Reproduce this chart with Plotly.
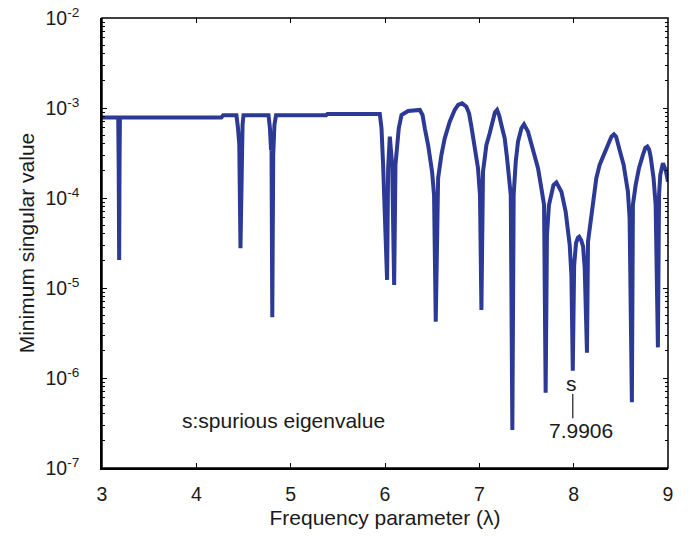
import plotly.graph_objects as go

# Frequency parameter (lambda)
lam = [3.000, 3.172, 3.177, 3.182, 3.186, 3.190, 4.265, 4.285, 4.425, 4.440,
       4.455, 4.468, 4.478, 4.490, 4.500, 4.765, 4.780, 4.792, 4.797, 4.805,
       4.815, 4.828, 4.845, 5.375, 5.390, 5.945, 5.963, 5.980, 6.022, 6.033,
       6.051, 6.076, 6.097, 6.111, 6.132, 6.146, 6.175, 6.245, 6.369, 6.398,
       6.422, 6.457, 6.499, 6.520, 6.538, 6.556, 6.563, 6.598, 6.633, 6.686,
       6.739, 6.775, 6.817, 6.863, 6.891, 6.916, 6.951, 6.986, 7.007, 7.022,
       7.039, 7.075, 7.110, 7.145, 7.165, 7.188, 7.210, 7.234, 7.269, 7.294,
       7.315, 7.333, 7.350, 7.364, 7.386, 7.410, 7.446, 7.474, 7.516, 7.569,
       7.622, 7.658, 7.686, 7.703, 7.717, 7.738, 7.763, 7.786, 7.817, 7.870,
       7.915, 7.940, 7.958, 7.976, 7.9906, 8.005, 8.025, 8.045, 8.058, 8.080,
       8.100, 8.117, 8.141, 8.152, 8.187, 8.212, 8.240, 8.275, 8.328, 8.374,
       8.400, 8.427, 8.450, 8.487, 8.530, 8.575, 8.593, 8.617, 8.628, 8.657,
       8.692, 8.734, 8.760, 8.781, 8.800, 8.816, 8.847, 8.869, 8.893, 8.905,
       8.918, 8.946, 8.975, 9.000]

# Minimum singular value
sv = [7.83e-4, 7.83e-4, 2.2e-4, 2.05e-5, 2.4e-4, 7.83e-4, 7.83e-4, 8.30e-4, 8.30e-4, 6.2e-4,
      4.0e-4, 2.76e-5, 3.5e-4, 6.5e-4, 8.30e-4, 8.30e-4, 6.0e-4, 3.4e-4, 3.6e-4, 4.72e-6,
      3.0e-4, 6.5e-4, 8.30e-4, 8.30e-4, 8.57e-4, 8.57e-4, 5.94e-4, 2.33e-4, 1.23e-5, 2.14e-4,
      4.80e-4, 2.33e-4, 1.08e-5, 2.33e-4, 3.88e-4, 5.94e-4, 8.36e-4, 9.27e-4, 9.51e-4, 8.36e-4,
      5.94e-4, 3.88e-4, 1.96e-4, 1.08e-4, 4.23e-6, 9.10e-5, 1.66e-4, 3.01e-4, 4.60e-4, 7.05e-4,
      9.51e-4, 1.08e-3, 1.127e-3, 1.035e-3, 8.73e-4, 6.21e-4, 3.88e-4, 2.14e-4, 1.08e-4, 5.70e-6,
      1.96e-4, 3.88e-4, 5.25e-4, 7.67e-4, 8.9e-4, 9.51e-4, 8.3e-4, 6.47e-4, 4.60e-4, 2.76e-4,
      1.52e-4, 1.08e-4, 2.64e-7, 1.08e-4, 2.54e-4, 4.23e-4, 5.94e-4, 6.59e-4, 5.46e-4, 3.56e-4,
      2.14e-4, 1.28e-4, 8.36e-5, 6.87e-7, 3.88e-5, 8.36e-5, 1.175e-4, 1.39e-4, 1.49e-4, 1.175e-4,
      7.05e-5, 4.60e-5, 3.01e-5, 1.39e-5, 1.205e-6, 1.78e-5, 3.16e-5, 3.63e-5, 3.72e-5, 3.39e-5,
      2.88e-5, 1.66e-5, 1.91e-6, 3.27e-5, 6.47e-5, 1.08e-4, 1.66e-4, 2.33e-4, 3.13e-4, 4.05e-4,
      4.8e-4, 5.09e-4, 4.8e-4, 3.41e-4, 2.33e-4, 1.175e-4, 5.94e-5, 5.37e-7, 8.36e-5, 1.39e-4,
      2.14e-4, 3.01e-4, 3.6e-4, 3.72e-4, 3.45e-4, 2.88e-4, 1.66e-4, 8.36e-5, 2.19e-6, 1.08e-4,
      1.80e-4, 2.43e-4, 2.05e-4, 1.52e-4]

x_ticks = [3, 4, 5, 6, 7, 8, 9]
y_ticks = [1e-7, 1e-6, 1e-5, 1e-4, 1e-3, 1e-2]
y_ticktext = ["10<sup>-7</sup>", "10<sup>-6</sup>", "10<sup>-5</sup>",
              "10<sup>-4</sup>", "10<sup>-3</sup>", "10<sup>-2</sup>"]

spurious_lambda = 7.9906

FONT = "Liberation Sans, Arial, sans-serif"
TXT = "#1a1a1a"
LINE = "#2C3A95"

fig = go.Figure()
fig.add_trace(go.Scatter(x=lam, y=sv, mode="lines",
                         line=dict(color=LINE, width=4),
                         showlegend=False, hoverinfo="skip"))
# empty trace that only carries the mirrored (top / right) tick axes
fig.add_trace(go.Scatter(x=[], y=[], xaxis="x2", yaxis="y2", mode="lines",
                         showlegend=False, hoverinfo="skip"))

tick_style = dict(ticks="inside", ticklen=5, tickwidth=1, tickcolor="black",
                  showgrid=False, zeroline=False, automargin=False)
y_minor = dict(ticks="inside", ticklen=3, tickcolor="black", dtick="D1", showgrid=False)

fig.update_layout(
    xaxis=dict(range=[3, 9], tickmode="array", tickvals=x_ticks, ticklabelstandoff=8,
               showline=True, linecolor="black", linewidth=1.5,
               ticklabeloverflow="allow",
               tickfont=dict(family=FONT, size=19.5, color=TXT),
               title=dict(text="Frequency parameter (λ)",
                          font=dict(family=FONT, size=21, color=TXT), standoff=6),
               **tick_style),
    yaxis=dict(type="log", range=[-7, -2], tickmode="array", tickvals=y_ticks,
               ticktext=y_ticktext, ticklabelstandoff=17,
               showline=True, linecolor="black", linewidth=1.5,
               ticklabeloverflow="allow", minor=y_minor,
               tickfont=dict(family=FONT, size=19.5, color=TXT),
               title=dict(text="Minimum singular value",
                          font=dict(family=FONT, size=21, color=TXT), standoff=5),
               **tick_style),
    xaxis2=dict(range=[3, 9], overlaying="x", side="top", anchor="y",
                tickmode="array", tickvals=x_ticks, showticklabels=False, **tick_style),
    yaxis2=dict(type="log", range=[-7, -2], overlaying="y", side="right", anchor="x",
                tickmode="array", tickvals=y_ticks, showticklabels=False,
                minor=y_minor, **tick_style),
)

# plot frame
fig.add_shape(type="rect", xref="paper", yref="paper", x0=0, x1=1, y0=0, y1=1,
              line=dict(color="black", width=1.5), fillcolor="rgba(0,0,0,0)")

fig.add_annotation(x=4.92, y=-6.467, xref="x", yref="y", text="s:spurious eigenvalue",
                   showarrow=False, font=dict(family=FONT, size=21, color=TXT))
fig.add_annotation(x=7.976, y=-6.06, xref="x", yref="y", text="s",
                   showarrow=False, font=dict(family=FONT, size=21, color=TXT))
fig.add_annotation(x=8.077, y=-6.578, xref="x", yref="y", text=f"{spurious_lambda}",
                   showarrow=False, font=dict(family=FONT, size=21, color=TXT))
fig.add_shape(type="line", xref="x", yref="paper", x0=spurious_lambda, x1=spurious_lambda,
              y0=0.1104, y1=0.1644, line=dict(color=TXT, width=1.2))

fig.update_layout(width=690, height=539, margin=dict(l=102, r=22, t=18, b=71),
                  paper_bgcolor="white", plot_bgcolor="white",
                  font=dict(family=FONT, color=TXT))

fig.write_html("out.html", config={"displayModeBar": False},
               post_script="document.body.style.margin='0px';document.body.style.overflow='hidden';")
